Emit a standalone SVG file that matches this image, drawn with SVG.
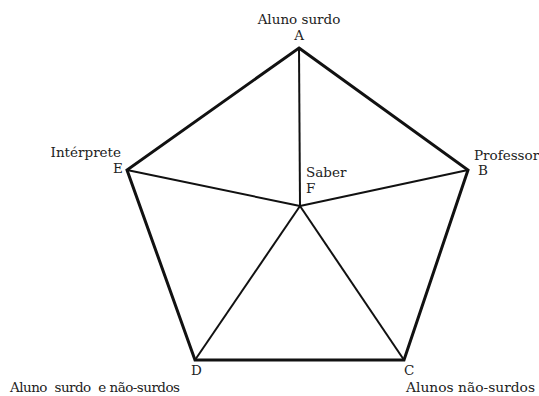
<svg xmlns="http://www.w3.org/2000/svg" width="539" height="396" viewBox="0 0 539 396">
<style>
text{font-family:"DejaVu Serif",serif;font-size:13.5px;fill:#222}
.outer{fill:none;stroke:#111;stroke-width:3;stroke-linejoin:miter}
.inner{stroke:#111;stroke-width:2;fill:none}
</style>
<rect width="539" height="396" fill="#fff"/>
<g id="connectors">
<polygon class="outer" points="299,48 468,170 404,360 195,360 127,170"/>
<line class="inner" x1="299" y1="48" x2="300" y2="206"/>
<line class="inner" x1="468" y1="170" x2="300" y2="206"/>
<line class="inner" x1="127" y1="170" x2="300" y2="206"/>
<line class="inner" x1="195" y1="360" x2="300" y2="206"/>
<line class="inner" x1="404" y1="360" x2="300" y2="206"/>
</g>
<g id="A"><text x="299" y="24" text-anchor="middle">Aluno surdo</text><text x="299" y="40" text-anchor="middle">A</text></g>
<g id="B"><text x="474" y="160" font-size="12">Professor</text><text x="478" y="175">B</text></g>
<g id="C"><text x="404" y="375">C</text><text x="406" y="392" textLength="129" lengthAdjust="spacingAndGlyphs">Alunos não-surdos</text></g>
<g id="D"><text x="191" y="375">D</text><text x="10" y="392" xml:space="preserve" textLength="170" lengthAdjust="spacing">Aluno  surdo  e não-surdos</text></g>
<g id="E"><text x="121" y="157" text-anchor="end">Intérprete</text><text x="113" y="173">E</text></g>
<g id="F"><text x="306" y="177">Saber</text><text x="306" y="193">F</text></g>
</svg>
